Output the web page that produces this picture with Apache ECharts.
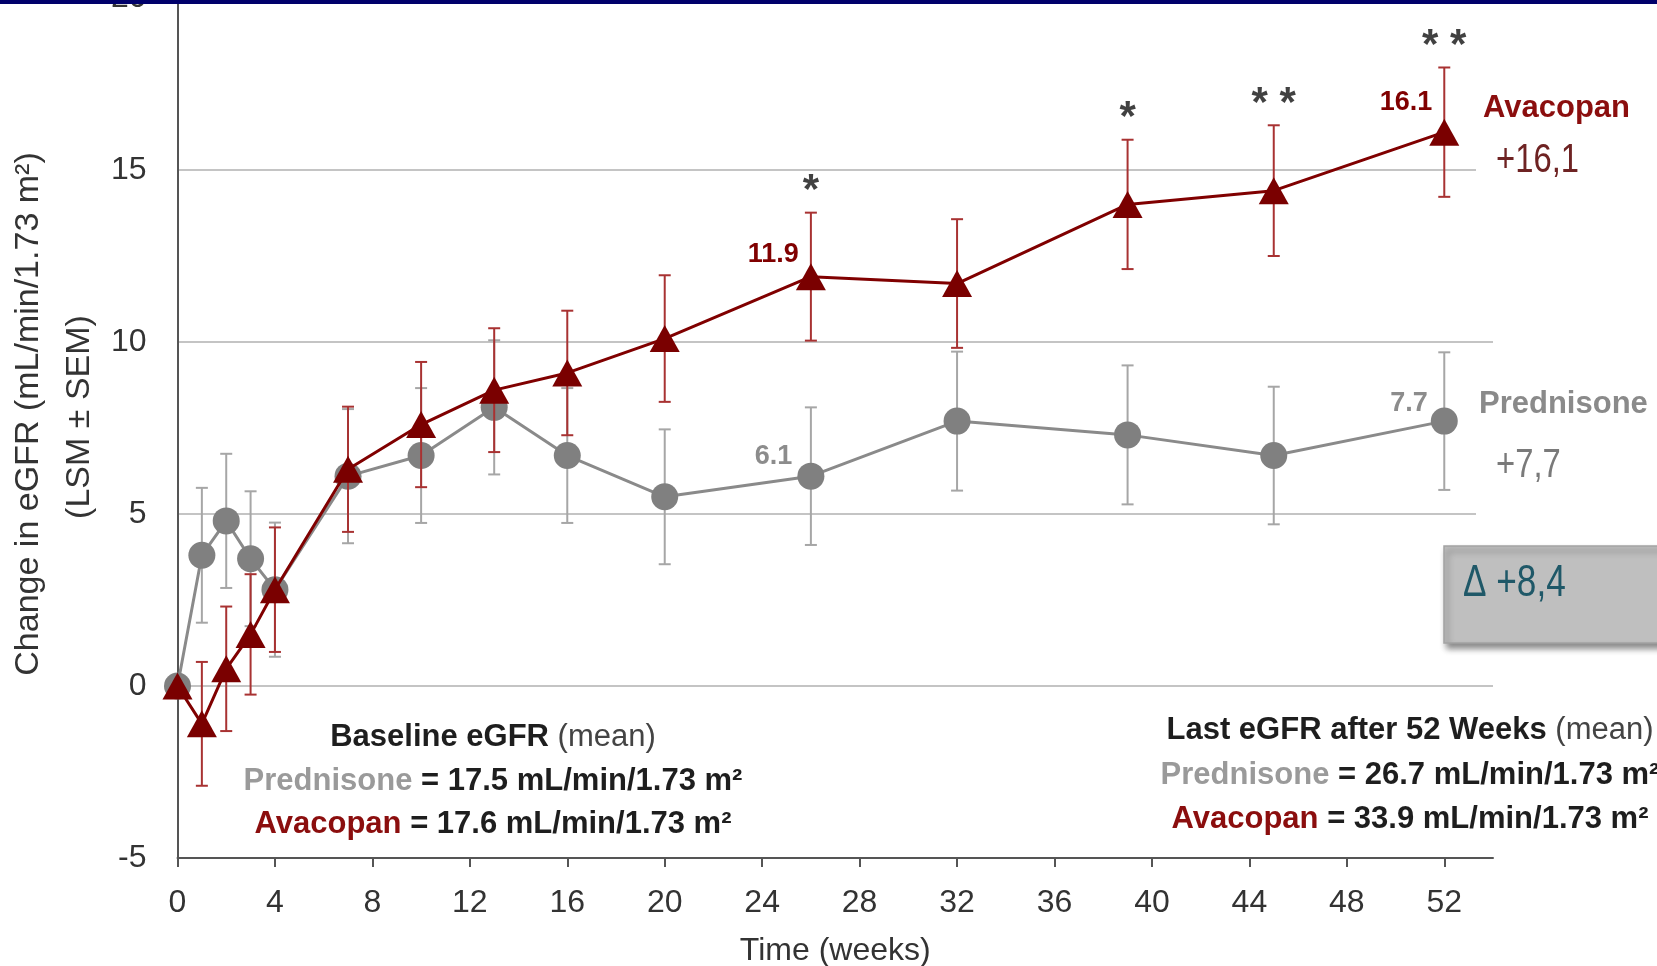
<!DOCTYPE html>
<html>
<head>
<meta charset="utf-8">
<script src="https://cdn.jsdelivr.net/npm/echarts@6/dist/echarts.min.js"></script>
<style>
  html, body { margin: 0; padding: 0; background: #ffffff; }
  #chart { width: 1657px; height: 966px; }
</style>
</head>
<body>
<div id="chart"></div>
<script>
// Change in eGFR over 52 weeks, LSM ± SEM per treatment arm
const weeks = [0, 1, 2, 3, 4, 7, 10, 13, 16, 20, 26, 32, 39, 45, 52];
const prednisone = [0, 3.8, 4.8, 3.7, 2.8, 6.1, 6.7, 8.1, 6.7, 5.5, 6.1, 7.7, 7.3, 6.7, 7.7];
const prednisoneSem = [0, 1.96, 1.95, 1.96, 1.95, 1.95, 1.96, 1.95, 1.96, 1.96, 2.0, 2.02, 2.02, 2.0, 2.0];
const avacopan = [0, -1.1, 0.5, 1.5, 2.8, 6.3, 7.6, 8.6, 9.1, 10.1, 11.9, 11.7, 14.0, 14.4, 16.1];
const avacopanSem = [0, 1.8, 1.81, 1.75, 1.81, 1.82, 1.82, 1.8, 1.81, 1.84, 1.86, 1.87, 1.88, 1.9, 1.88];

// significance markers placed above the Avacopan error bars
const sigWeeks = [26, 39, 45, 52];
const sigMarks = ['*', '*', '* *', '* *'];

// weeks whose values are printed next to the marker
const labelledWeeks = [26, 52];

const xTickValues = [0, 4, 8, 12, 16, 20, 24, 28, 32, 36, 40, 44, 48, 52];

const baselinePred = '17.5';
const baselineAvac = '17.6';
const lastPred = '26.7';
const lastAvac = '33.9';
const changePred = '+7,7';
const changeAvac = '+16,1';
const changeDelta = 'Δ +8,4';

const FONT = "'Liberation Sans', Arial, Helvetica, sans-serif";
const RED = '#800000';
const RED_ERR = '#a83232';
const GREY = '#808080';
const GREY_LINE = '#8a8a8a';
const GREY_ERR = '#a6a6a6';

// label nudges for the printed values, keyed by week
const avacLabelOffset = { 26: [3, -22], 52: [3, -30] };
const predLabelOffset = { 26: [-5, -20], 52: [-3, -18] };

function errorBars(color, capHalf) {
  return function (params, api) {
    const x = api.value(0), lo = api.value(1), hi = api.value(2);
    if (hi === lo) return null;
    const pHi = api.coord([x, hi]);
    const pLo = api.coord([x, lo]);
    const style = { stroke: color, lineWidth: 2 };
    return {
      type: 'group',
      children: [
        { type: 'line', shape: { x1: pHi[0], y1: pHi[1], x2: pLo[0], y2: pLo[1] }, style: style },
        { type: 'line', shape: { x1: pHi[0] - capHalf, y1: pHi[1], x2: pHi[0] + capHalf, y2: pHi[1] }, style: style },
        { type: 'line', shape: { x1: pLo[0] - capHalf, y1: pLo[1], x2: pLo[0] + capHalf, y2: pLo[1] }, style: style }
      ]
    };
  };
}

function errData(vals, sem) {
  return weeks.map((w, i) => [w, +(vals[i] - sem[i]).toFixed(3), +(vals[i] + sem[i]).toFixed(3)]);
}

function seriesData(vals, color, offsets) {
  return weeks.map((w, i) => {
    const item = { value: [w, vals[i]] };
    if (labelledWeeks.indexOf(w) >= 0) {
      item.label = {
        show: true,
        position: 'left',
        distance: 0,
        offset: offsets[w],
        formatter: (p) => p.value[1].toFixed(1),
        fontFamily: FONT,
        fontWeight: 'bold',
        fontSize: 27,
        color: color
      };
    }
    return item;
  });
}

const sigData = sigWeeks.map((w, k) => {
  const i = weeks.indexOf(w);
  return { value: [w, avacopan[i] + avacopanSem[i]], mark: sigMarks[k] };
});

const chart = echarts.init(document.getElementById('chart'), null, { renderer: 'canvas' });

function richLine(x, y, text, rich) {
  return {
    type: 'text', x: x, y: y, z: 50,
    style: { text: text, rich: rich, align: 'center', verticalAlign: 'middle', fontFamily: FONT, fontSize: 31 }
  };
}

const blockRich = {
  b: { fontFamily: FONT, fontSize: 31, fontWeight: 'bold', fill: '#1e1e1e' },
  m: { fontFamily: FONT, fontSize: 31, fontWeight: 'normal', fill: '#444444' },
  g: { fontFamily: FONT, fontSize: 31, fontWeight: 'bold', fill: '#9a9a9a' },
  r: { fontFamily: FONT, fontSize: 31, fontWeight: 'bold', fill: '#8b0e0e' }
};

const option = {
  backgroundColor: '#ffffff',
  animation: false,
  textStyle: { fontFamily: FONT },
  grid: { left: 177.5, right: 164, top: -2, bottom: 108, containLabel: false, outerBoundsMode: 'none' },
  xAxis: {
    type: 'value',
    min: 0,
    max: 54,
    interval: 4,
    name: 'Time (weeks)',
    nameLocation: 'middle',
    nameGap: 77,
    nameTextStyle: { fontFamily: FONT, fontSize: 32, color: '#333333' },
    axisLine: { onZero: false, lineStyle: { color: '#555555', width: 2 } },
    axisTick: { show: true, length: 9, customValues: xTickValues, lineStyle: { color: '#555555', width: 2 } },
    axisLabel: { customValues: xTickValues, margin: 29, fontSize: 32, color: '#333333', fontFamily: FONT },
    splitLine: { show: false }
  },
  yAxis: {
    type: 'value',
    min: -5,
    max: 20,
    interval: 5,
    axisLine: { show: true, onZero: false, lineStyle: { color: '#555555', width: 2 } },
    axisTick: { show: false },
    axisLabel: { margin: 31, fontSize: 32, color: '#333333', fontFamily: FONT, showMaxLabel: true, showMinLabel: true },
    splitLine: { show: true, lineStyle: { color: '#c4c4c4', width: 2 } }
  },
  series: [
    {
      name: 'Prednisone SEM',
      type: 'custom',
      renderItem: errorBars(GREY_ERR, 6),
      encode: { x: 0, y: [1, 2] },
      data: errData(prednisone, prednisoneSem),
      z: 2,
      silent: true
    },
    {
      name: 'Prednisone',
      type: 'line',
      data: seriesData(prednisone, '#8c8c8c', predLabelOffset),
      symbol: 'circle',
      symbolSize: 27,
      lineStyle: { color: GREY_LINE, width: 3 },
      itemStyle: { color: GREY },
      z: 3
    },
    {
      name: 'Avacopan SEM',
      type: 'custom',
      renderItem: errorBars(RED_ERR, 6),
      encode: { x: 0, y: [1, 2] },
      data: errData(avacopan, avacopanSem),
      z: 4,
      silent: true
    },
    {
      name: 'Avacopan',
      type: 'line',
      data: seriesData(avacopan, RED, avacLabelOffset),
      symbol: 'triangle',
      symbolSize: [30, 27],
      lineStyle: { color: RED, width: 3 },
      itemStyle: { color: '#7a0000' },
      z: 5
    },
    {
      name: 'significance',
      type: 'scatter',
      data: sigData,
      symbolSize: 2,
      itemStyle: { color: 'rgba(255,255,255,0)' },
      label: {
        show: true,
        position: 'inside',
        offset: [0, -21],
        formatter: (p) => p.data.mark,
        fontFamily: FONT,
        fontSize: 42,
        fontWeight: 'bold',
        color: '#111111'
      },
      z: 6,
      silent: true
    }
  ],
  graphic: [
    // navy band across the top
    { type: 'rect', shape: { x: 0, y: 0, width: 1657, height: 4 }, style: { fill: '#00006b' }, z: 100 },

    // y-axis title
    {
      type: 'text', x: 29, y: 414, rotation: Math.PI / 2, z: 50,
      style: { text: 'Change in eGFR (mL/min/1.73 m²)', fontFamily: FONT, fontSize: 34, fill: '#333333', align: 'center', verticalAlign: 'middle' }
    },
    {
      type: 'text', x: 80, y: 417, rotation: Math.PI / 2, z: 50,
      style: { text: '(LSM ± SEM)', fontFamily: FONT, fontSize: 34, fill: '#333333', align: 'center', verticalAlign: 'middle' }
    },

    // white patches where the end labels sit over the grid
    { type: 'rect', shape: { x: 1476, y: 160, width: 30, height: 20 }, style: { fill: '#ffffff' }, z: 40 },
    { type: 'rect', shape: { x: 1476, y: 505, width: 30, height: 20 }, style: { fill: '#ffffff' }, z: 40 },

    // series end labels
    {
      type: 'text', x: 1483, y: 108, z: 50,
      style: { text: 'Avacopan', fontFamily: FONT, fontSize: 31, fontWeight: 'bold', fill: '#8b0e0e', align: 'left', verticalAlign: 'middle' }
    },
    {
      type: 'text', x: 1496, y: 161, scaleX: 0.8, z: 50,
      style: { text: changeAvac, fontFamily: FONT, fontSize: 41, fill: '#6e2323', align: 'left', verticalAlign: 'middle' }
    },
    {
      type: 'text', x: 1479, y: 404, z: 50,
      style: { text: 'Prednisone', fontFamily: FONT, fontSize: 31, fontWeight: 'bold', fill: '#8a8a8a', align: 'left', verticalAlign: 'middle' }
    },
    {
      type: 'text', x: 1496, y: 466, scaleX: 0.8, z: 50,
      style: { text: changePred, fontFamily: FONT, fontSize: 41, fill: '#7a7a7a', align: 'left', verticalAlign: 'middle' }
    },

    // difference box
    {
      type: 'rect', z: 45,
      shape: { x: 1444, y: 546, width: 240, height: 97 },
      style: { fill: '#bfbfbf', stroke: '#a3a3a3', lineWidth: 1.5, shadowBlur: 6, shadowOffsetX: 3, shadowOffsetY: 5, shadowColor: 'rgba(0,0,0,0.45)' }
    },
    {
      type: 'text', x: 1463, y: 584, scaleX: 0.8, z: 50,
      style: { text: changeDelta, fontFamily: FONT, fontSize: 44, fill: '#1f5868', align: 'left', verticalAlign: 'middle' }
    },

    // baseline block
    richLine(493, 737, '{b|Baseline eGFR}{m| (mean)}', blockRich),
    richLine(493, 781, '{g|Prednisone}{b| = ' + baselinePred + ' mL/min/1.73 m²}', blockRich),
    richLine(493, 824, '{r|Avacopan}{b| = ' + baselineAvac + ' mL/min/1.73 m²}', blockRich),

    // week 52 block
    richLine(1410, 730, '{b|Last eGFR after 52 Weeks}{m| (mean)}', blockRich),
    richLine(1410, 775, '{g|Prednisone}{b| = ' + lastPred + ' mL/min/1.73 m²}', blockRich),
    richLine(1410, 819, '{r|Avacopan}{b| = ' + lastAvac + ' mL/min/1.73 m²}', blockRich)
  ]
};

chart.setOption(option);
</script>
</body>
</html>
